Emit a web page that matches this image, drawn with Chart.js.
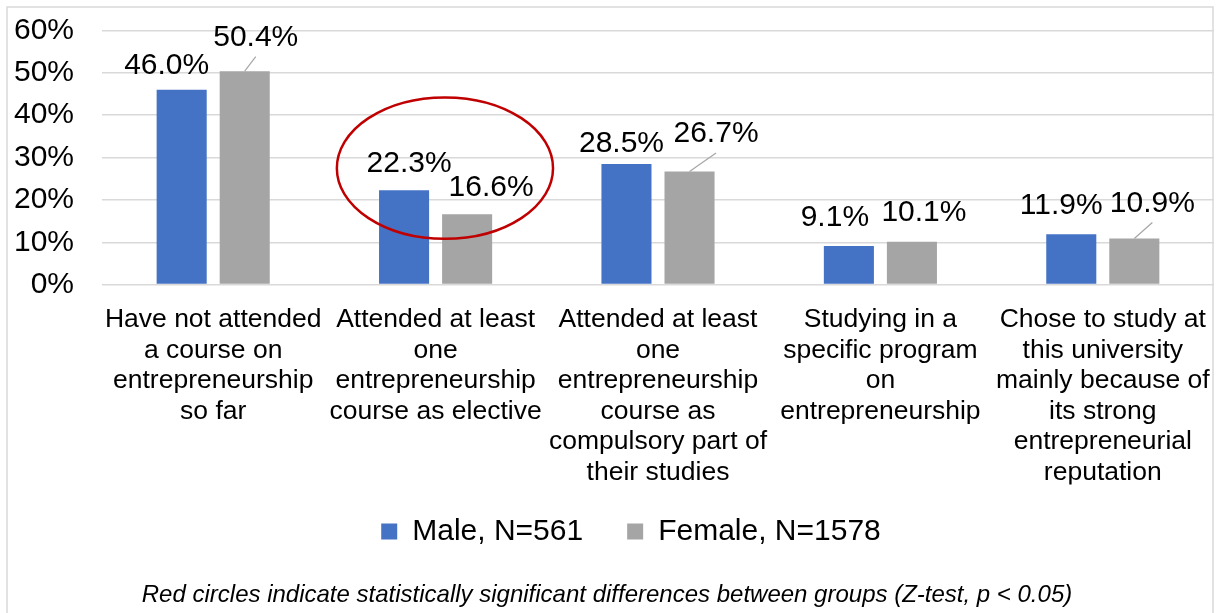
<!DOCTYPE html>
<html>
<head>
<meta charset="utf-8">
<script src="https://cdn.jsdelivr.net/npm/chart.js@4.4.1/dist/chart.umd.min.js"></script>
<style>
  html, body { margin: 0; padding: 0; background: #fff; }
  #wrap { width: 1220px; height: 613px; }
</style>
</head>
<body>
<div id="wrap"><canvas id="myChart" width="1220" height="613"></canvas></div>
<script>
var categories = [
    ["Have not attended", "a course on", "entrepreneurship", "so far"],
    ["Attended at least", "one", "entrepreneurship", "course as elective"],
    ["Attended at least", "one", "entrepreneurship", "course as", "compulsory part of", "their studies"],
    ["Studying in a", "specific program", "on", "entrepreneurship"],
    ["Chose to study at", "this university", "mainly because of", "its strong", "entrepreneurial", "reputation"]
];
var maleValues = [46.0, 22.3, 28.5, 9.1, 11.9];
var femaleValues = [50.4, 16.6, 26.7, 10.1, 10.9];
var seriesNames = ["Male, N=561", "Female, N=1578"];
var yTicks = [0, 10, 20, 30, 40, 50, 60];
var significant = [false, true, false, false, false];
var footnote = "Red circles indicate statistically significant differences between groups (Z-test, p < 0.05)";

// label nudges in px, the labels were dragged around in the original
var maleLabelDx = [-15, 5, -5, -14, -10];
var maleLabelRise = [26, 29, 23, 31, 31];
var femaleLabelDx = [11, 24, 26.5, 12, 18];
var femaleLabelRise = [36, 28.5, 40, 31.5, 37.5];
var femaleLeader = [true, false, true, false, true];

Chart.defaults.font.family = "'Liberation Sans', Arial, sans-serif";
Chart.defaults.color = '#000';

var labelFont = "30px 'Liberation Sans', Arial, sans-serif";

var extras = {
    id: 'extras',
    beforeDraw: function(chart) {
        var c = chart.ctx;
        c.save();
        c.fillStyle = '#fff';
        c.fillRect(0, 0, chart.width, chart.height);
        c.strokeStyle = '#D9D9D9';
        c.lineWidth = 1.5;
        c.strokeRect(7, 7, chart.width - 14, chart.height + 20);
        c.restore();
    },
    afterLayout: function(chart) {
        // nudge legend to where it sat in the original
        chart.legend.left += 48;
        chart.legend.top -= 12;
        chart.legend.bottom -= 12;
    },
    afterDatasetsDraw: function(chart) {
        var c = chart.ctx;
        var xs = chart.scales.x, ys = chart.scales.y;
        c.save();
        c.font = labelFont;
        c.textAlign = 'center';
        c.textBaseline = 'alphabetic';
        var sets = [
            {vals: maleValues, dx: maleLabelDx, rise: maleLabelRise, leader: null},
            {vals: femaleValues, dx: femaleLabelDx, rise: femaleLabelRise, leader: femaleLeader}
        ];
        sets.forEach(function(s, di) {
            var meta = chart.getDatasetMeta(di);
            meta.data.forEach(function(bar, j) {
                var lx = bar.x + s.dx[j];
                var cy = bar.y - s.rise[j];
                c.fillStyle = '#000';
                c.fillText(s.vals[j].toFixed(1) + '%', lx, cy + 10.7);
                if (s.leader && s.leader[j]) {
                    c.strokeStyle = '#A6A6A6';
                    c.lineWidth = 1.2;
                    c.beginPath();
                    c.moveTo(bar.x, bar.y);
                    c.lineTo(lx, cy + 21.5);
                    c.stroke();
                }
            });
        });

        // red ellipse around significant pairs
        var catW = xs.width / categories.length;
        significant.forEach(function(sig, j) {
            if (!sig) return;
            var cx = xs.getPixelForValue(j) + catW * 0.042;
            var cy = ys.getPixelForValue(27.5);
            var ry = ys.getPixelForValue(0) - ys.getPixelForValue(16.7);
            c.strokeStyle = '#C00000';
            c.lineWidth = 2.5;
            c.beginPath();
            c.ellipse(cx, cy, catW * 0.486, ry, 0, 0, Math.PI * 2);
            c.stroke();
        });
        c.restore();
    }
};

var ctx = document.getElementById("myChart");
var myChart = new Chart(ctx, {
    type: 'bar',
    data: {
        labels: categories,
        datasets: [{
            label: seriesNames[0],
            data: maleValues,
            backgroundColor: '#4472C4',
            categoryPercentage: 0.567,
            barPercentage: 0.794
        }, {
            label: seriesNames[1],
            data: femaleValues,
            backgroundColor: '#A5A5A5',
            categoryPercentage: 0.567,
            barPercentage: 0.794
        }]
    },
    options: {
        responsive: false,
        animation: false,
        devicePixelRatio: 1,
        layout: {
            padding: {left: 0, right: 6, top: 30.5, bottom: 0}
        },
        scales: {
            x: {
                grid: {display: false},
                border: {display: false},
                ticks: {
                    font: {size: 26.5, lineHeight: 1.15},
                    color: '#000',
                    maxRotation: 0,
                    autoSkip: false,
                    padding: 12
                },
                afterFit: function(scale) {
                    scale.height = 200;
                    scale.paddingLeft = 0;
                    scale.paddingRight = 0;
                }
            },
            y: {
                min: 0,
                max: 60,
                grid: {color: '#D9D9D9', lineWidth: 1.5, drawTicks: false},
                border: {display: false},
                ticks: {
                    font: {size: 30},
                    color: '#000',
                    padding: 28,
                    callback: function(v) { return v + '%'; }
                },
                afterBuildTicks: function(scale) {
                    scale.ticks = yTicks.map(function(v) { return {value: v}; });
                },
                afterFit: function(scale) {
                    scale.width = 102;
                    scale.paddingTop = 0;
                    scale.paddingBottom = 0;
                }
            }
        },
        plugins: {
            legend: {
                position: 'bottom',
                labels: {
                    font: {size: 30},
                    color: '#000',
                    boxWidth: 16,
                    boxHeight: 16,
                    padding: 44
                }
            },
            title: {
                display: true,
                position: 'bottom',
                text: footnote,
                color: '#000',
                font: {size: 24, style: 'italic', weight: 'normal', lineHeight: 1.2},
                padding: {top: 12, bottom: 3.6}
            },
            tooltip: {enabled: false}
        }
    },
    plugins: [extras]
});
</script>
</body>
</html>
